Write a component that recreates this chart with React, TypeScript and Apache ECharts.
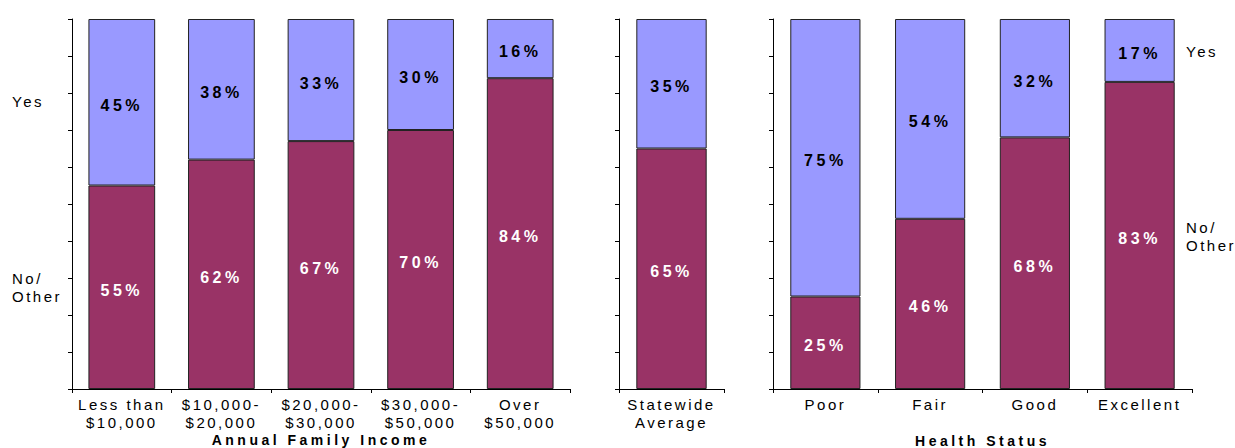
import React, { useEffect, useRef } from 'react';
import * as echarts from 'echarts';

const incomeCategories = ['Less than\n$10,000', '$10,000-\n$20,000', '$20,000-\n$30,000', '$30,000-\n$50,000', 'Over\n$50,000'];
const incomeNo = [55, 62, 67, 70, 84];
const incomeYes = [45, 38, 33, 30, 16];

const statewideCategories = ['Statewide\nAverage'];
const statewideNo = [65];
const statewideYes = [35];

const healthCategories = ['Poor', 'Fair', 'Good', 'Excellent'];
const healthNo = [25, 46, 68, 83];
const healthYes = [75, 54, 32, 17];

const axisNames = ['Annual Family Income', '', 'Health Status'];
const legendYes = 'Yes';
const legendNo = 'No/\nOther';

export default function App() {
  const ref = useRef<HTMLDivElement>(null);
  useEffect(() => {
    const chart = echarts.init(ref.current!, null, { renderer: 'svg' });
    const font = "'Liberation Sans', Arial, sans-serif";
    const grids = [
      { left: 72, top: 19, width: 498, height: 370, outerBoundsMode: 'none', containLabel: false },
      { left: 619, top: 19, width: 105, height: 370, outerBoundsMode: 'none', containLabel: false },
      { left: 773, top: 19, width: 419, height: 370, outerBoundsMode: 'none', containLabel: false },
    ];
    const cats = [incomeCategories, statewideCategories, healthCategories];
    const noData = [incomeNo, statewideNo, healthNo];
    const yesData = [incomeYes, statewideYes, healthYes];
    const nameGaps = [44, 44, 44.5];

    const xAxis = cats.map((c, i) => ({
      type: 'category',
      gridIndex: i,
      data: c,
      name: axisNames[i],
      nameLocation: 'middle',
      nameGap: nameGaps[i],
      nameMoveOverlap: false,
      nameTextStyle: { fontFamily: font, fontWeight: 'bold', fontSize: 14, color: '#000' },
      axisLine: { lineStyle: { color: '#000', width: 1 } },
      axisTick: { show: true, length: 4, lineStyle: { color: '#000' } },
      axisLabel: { interval: 0, fontFamily: font, fontSize: 15, color: '#000', lineHeight: 18, margin: 6 },
    }));
    const yAxis = cats.map((_, i) => ({
      type: 'value',
      gridIndex: i,
      min: 0,
      max: 100,
      interval: 10,
      axisLine: { show: true, lineStyle: { color: '#000', width: 1 } },
      axisTick: { show: true, length: 4, lineStyle: { color: '#000' } },
      axisLabel: { show: false },
      splitLine: { show: false },
    }));
    const series: any[] = [];
    cats.forEach((_, i) => {
      series.push({
        type: 'bar',
        xAxisIndex: i,
        yAxisIndex: i,
        stack: 's' + i,
        data: noData[i],
        barWidth: '67%',
        itemStyle: { color: '#993366', borderColor: '#222', borderWidth: 1 },
        label: {
          show: true, position: 'inside', formatter: '{c}%', color: '#fff',
          fontWeight: 'bold', fontSize: 16, fontFamily: font, offset: [0, 3],
        },
      });
      series.push({
        type: 'bar',
        xAxisIndex: i,
        yAxisIndex: i,
        stack: 's' + i,
        data: yesData[i],
        barWidth: '67%',
        itemStyle: { color: '#9999FF', borderColor: '#222', borderWidth: 1 },
        label: {
          show: true, position: 'inside', formatter: '{c}%', color: '#000',
          fontWeight: 'bold', fontSize: 16, fontFamily: font, offset: [0, 3],
        },
      });
    });

    chart.setOption({
      animation: false,
      grid: grids,
      xAxis,
      yAxis,
      series,
    } as any);

    const py = (g: number, cat: number, v: number) =>
      (chart.convertToPixel({ gridIndex: g } as any, [cat, v]) as number[])[1];
    const last = healthCategories.length - 1;
    const leftYesY = py(0, 0, incomeNo[0] + incomeYes[0] / 2);
    const leftNoY = py(0, 0, incomeNo[0] / 2);
    const rightYesY = py(2, last, healthNo[last] + healthYes[last] / 2);
    const rightNoY = py(2, last, healthNo[last] / 2);
    const mk = (text: string, x: number, y: number) => ({
      type: 'text',
      x,
      y,
      style: {
        text,
        fill: '#000',
        fontFamily: font,
        fontSize: 15,
        lineHeight: 18.5,
        align: 'left',
        verticalAlign: 'middle',
      },
    });
    chart.setOption({
      graphic: [
        mk(legendYes, 12, leftYesY - 1),
        mk(legendNo, 12, leftNoY),
        mk(legendYes, 1186, rightYesY + 1),
        mk(legendNo, 1186, rightNoY + 1),
      ],
    } as any);

    return () => chart.dispose();
  }, []);
  return (
    <>
      <style>{`body{margin:0} .chartbox text{letter-spacing:2.5px} .chartbox text[style*="bold"]{letter-spacing:3.5px}`}</style>
      <div ref={ref} className="chartbox" style={{ width: 1235, height: 448 }} />
    </>
  );
}
